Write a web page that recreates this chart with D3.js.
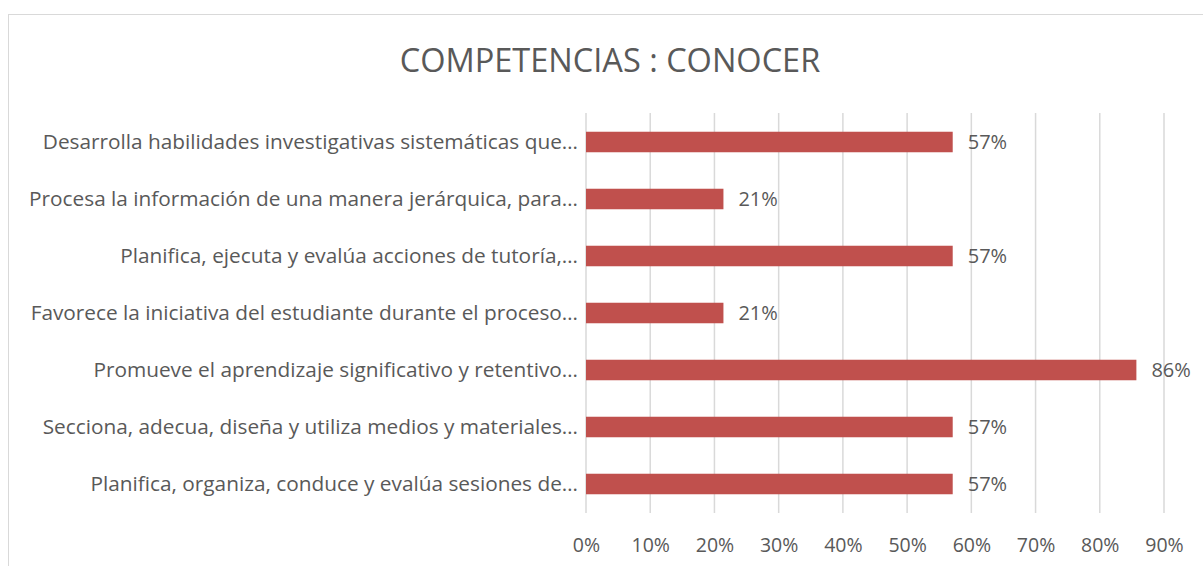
<!DOCTYPE html>
<html>
<head>
<meta charset="utf-8">
<script src="https://cdnjs.cloudflare.com/ajax/libs/d3/7.8.5/d3.min.js"></script>
<style>
  body { margin: 0; background: #fff; }
  text { font-family: "Open Sans", sans-serif; fill: #595959; }
</style>
</head>
<body>
<div class="chart"></div>
<script>
const w = 1203;
const h = 566;

const title = "COMPETENCIAS : CONOCER";
const categories = [
  "Desarrolla habilidades investigativas sistemáticas que…",
  "Procesa la información de una manera jerárquica, para…",
  "Planifica, ejecuta y evalúa acciones de tutoría,…",
  "Favorece la iniciativa del estudiante durante el proceso…",
  "Promueve el aprendizaje significativo y retentivo…",
  "Secciona, adecua, diseña y utiliza medios y materiales…",
  "Planifica, organiza, conduce y evalúa sesiones de…"
];
const values = [0.571, 0.214, 0.571, 0.214, 0.857, 0.571, 0.571];
const xTicks = [0, 0.1, 0.2, 0.3, 0.4, 0.5, 0.6, 0.7, 0.8, 0.9];

const svg = d3.select(".chart").append("svg").attr("width", w).attr("height", h);

// chart border (clipped by window on right/bottom)
svg.append("rect")
  .attr("x", 8.5).attr("y", 14.5)
  .attr("width", w).attr("height", h)
  .attr("fill", "none").attr("stroke", "#d9d9d9");

svg.append("text")
  .attr("x", 610).attr("y", 72)
  .attr("text-anchor", "middle")
  .style("font-size", "32.5px")
  .text(title);

const xScale = d3.scaleLinear().domain([0, 0.9]).range([586, 1164]);
const yScale = d3.scaleBand().domain(categories).range([113.5, 512.5])
  .paddingInner(0.64).paddingOuter(0.32);

// gridlines
svg.append("g")
  .selectAll("line")
  .data(xTicks)
  .enter()
  .append("line")
  .attr("x1", d => xScale(d)).attr("x2", d => xScale(d))
  .attr("y1", 113).attr("y2", 513)
  .attr("stroke", "#d9d9d9").attr("stroke-width", 1.5);

const xAxis = d3.axisBottom(xScale).tickValues(xTicks).tickFormat(d3.format(".0%")).tickSize(0).tickPadding(0);
const gx = svg.append("g").attr("transform", "translate(0,552)").call(xAxis);
gx.select(".domain").remove();
gx.selectAll("text").style("font-size", "19.5px").attr("fill", "#595959").attr("dy", 0);

const yAxis = d3.axisLeft(yScale).tickSize(0).tickPadding(8);
const gy = svg.append("g").attr("transform", "translate(586,0)").call(yAxis);
gy.select(".domain").remove();
gy.selectAll("text").style("font-size", "20.8px").attr("fill", "#595959").attr("dy", "0.35em");

svg.selectAll("rect.bar")
  .data(values)
  .enter()
  .append("rect")
  .attr("class", "bar")
  .attr("x", xScale(0))
  .attr("y", (d, i) => yScale(categories[i]))
  .attr("width", d => xScale(d) - xScale(0))
  .attr("height", yScale.bandwidth())
  .attr("fill", "#c0504d");

svg.selectAll("text.val")
  .data(values)
  .enter()
  .append("text")
  .attr("class", "val")
  .attr("x", d => xScale(d) + 15)
  .attr("y", (d, i) => yScale(categories[i]) + yScale.bandwidth() / 2)
  .attr("dy", "0.35em")
  .style("font-size", "20px")
  .text(d => d3.format(".0%")(d));
</script>
</body>
</html>
